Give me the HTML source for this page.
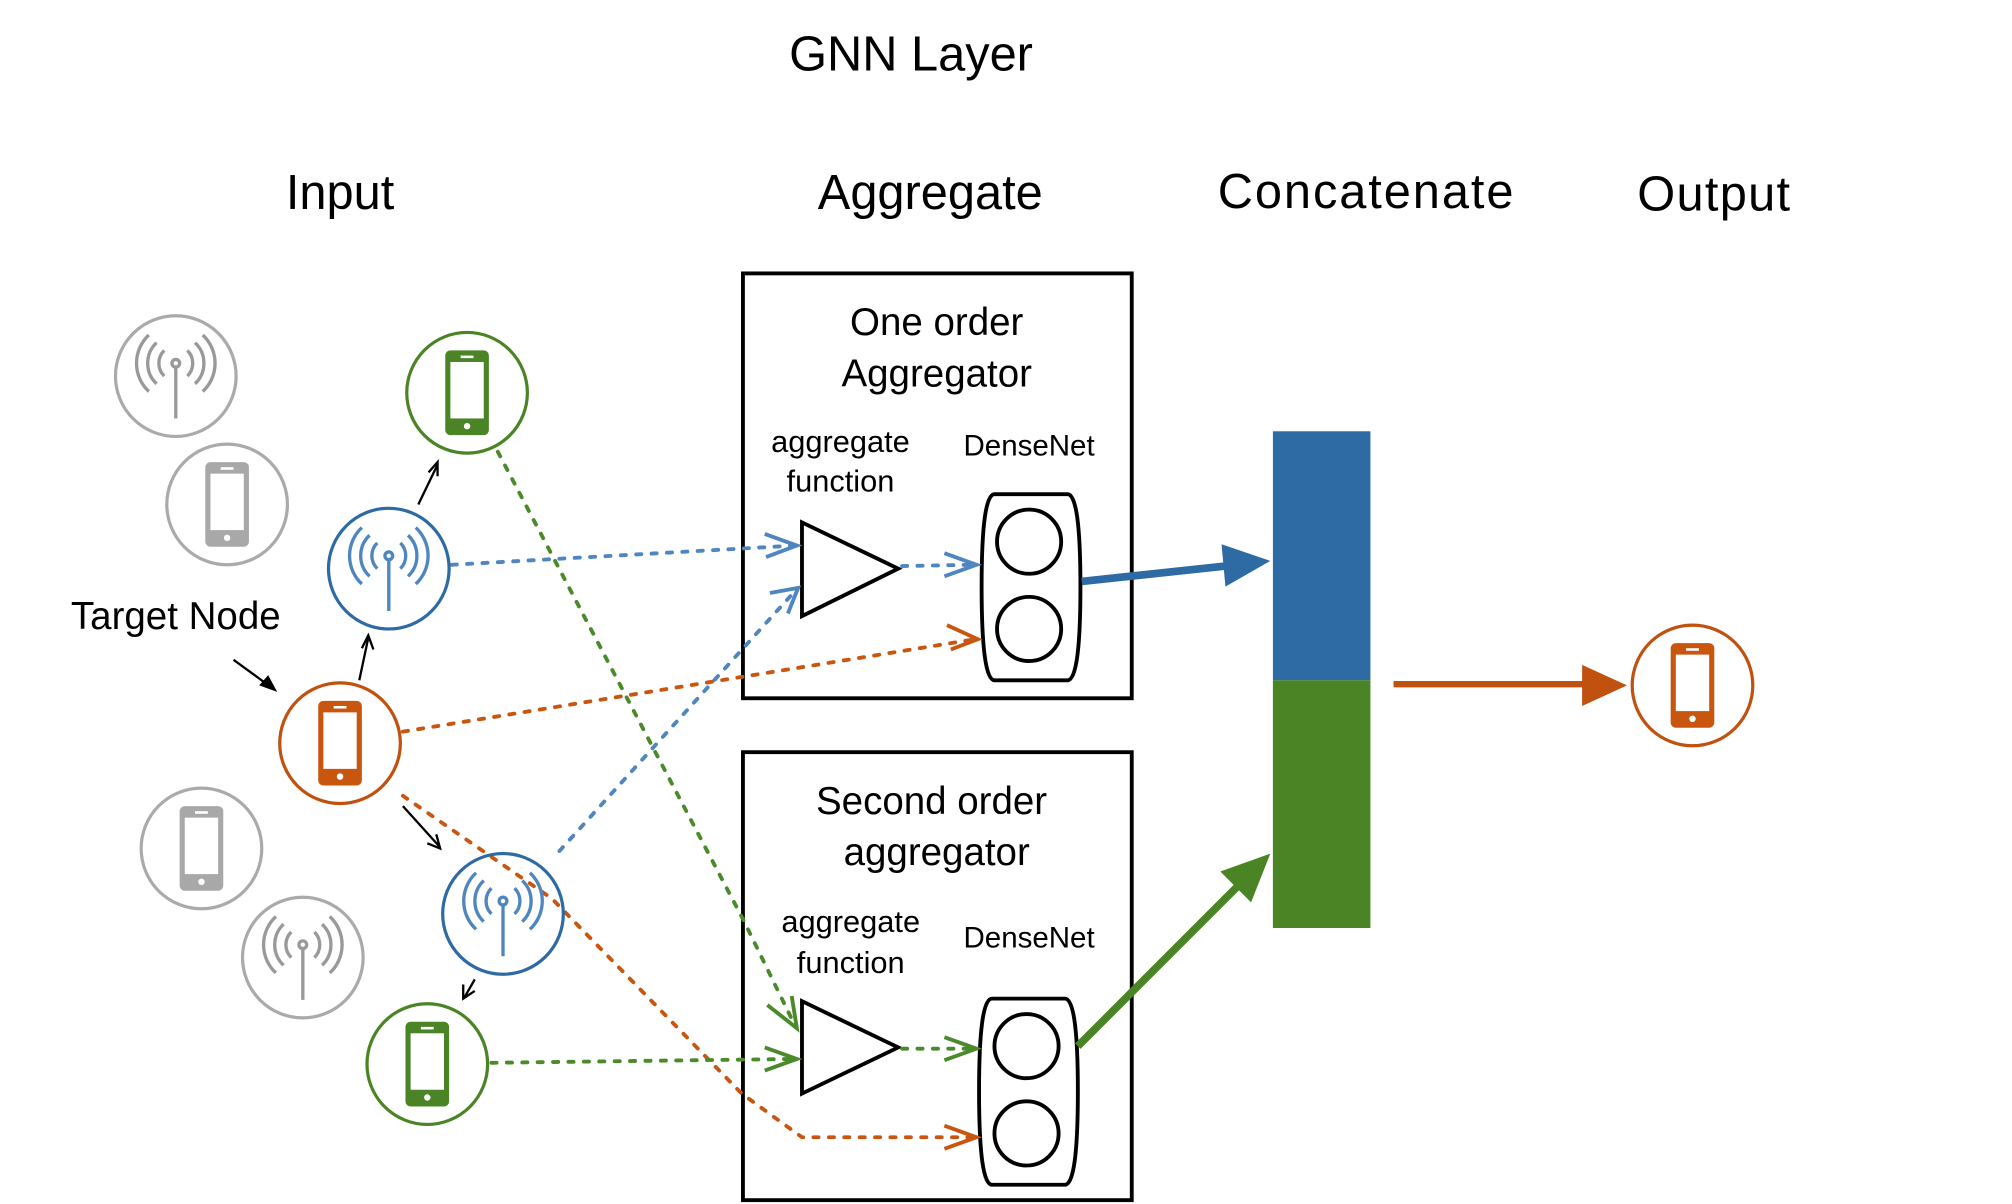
<!DOCTYPE html>
<html><head><meta charset="utf-8"><style>
html,body{margin:0;padding:0;background:#fff;}
svg{display:block;font-family:"Liberation Sans",sans-serif;}
</style></head><body>
<svg width="2012" height="1204" viewBox="0 0 1568 938" preserveAspectRatio="none" xmlns="http://www.w3.org/2000/svg">
<defs>
<g id="phone"><rect x="-17" y="-33" width="34" height="66" rx="4"/><rect x="-13" y="-24" width="26" height="44" fill="#fff"/><circle cx="0" cy="26" r="2.5" fill="#fff"/><rect x="-5" y="-29" width="10" height="2" fill="#fff"/></g>
<g id="ant" fill="none" stroke-width="2.6"><line x1="0" y1="-8" x2="0" y2="33"/><circle cx="0" cy="-10" r="3"/><path d="M-9,-20 A14,14 0 0 0 -9,0 M-15,-26 A22,22 0 0 0 -15,6 M-21,-32 A30,30 0 0 0 -21,12 M9,-20 A14,14 0 0 1 9,0 M15,-26 A22,22 0 0 1 15,6 M21,-32 A30,30 0 0 1 21,12"/></g>
</defs>
<g fill="#000" text-anchor="middle">
<text x="710" y="55" font-size="38">GNN Layer</text>
<text x="265" y="163" font-size="38">Input</text>
<text x="725" y="163" font-size="38">Aggregate</text>
<text x="1065" y="162" font-size="38" letter-spacing="1.5">Concatenate</text>
<text x="1336" y="164" font-size="38" letter-spacing="1">Output</text>
<text x="730" y="261" font-size="30">One order</text>
<text x="730" y="301" font-size="30">Aggregator</text>
<text x="655" y="352" font-size="24">aggregate</text>
<text x="655" y="383" font-size="24">function</text>
<text x="802" y="355" font-size="23">DenseNet</text>
<text x="726" y="634" font-size="30">Second order</text>
<text x="730" y="674" font-size="30">aggregator</text>
<text x="663" y="726" font-size="24">aggregate</text>
<text x="663" y="758" font-size="24">function</text>
<text x="802" y="738" font-size="23">DenseNet</text>
<text x="137" y="490" font-size="30">Target Node</text>
</g>
<g fill="none" stroke="#000" stroke-width="3">
<rect x="579" y="213" width="303" height="331"/>
<rect x="579" y="586" width="303" height="349"/>
<polygon points="625,407 625,480 700,443"/>
<polygon points="625,780 625,852 700,816"/>
<path d="M775,385 H832 Q842,385 842,457 Q842,530 832,530 H775 Q765,530 765,457 Q765,385 775,385Z"/>
<circle cx="802" cy="422" r="25"/><circle cx="802" cy="490" r="25"/>
<path d="M773,778 H830 Q840,778 840,850 Q840,923 830,923 H773 Q763,923 763,850 Q763,778 773,778Z"/>
<circle cx="800" cy="815" r="25"/><circle cx="800" cy="883" r="25"/>
</g>
<rect x="992" y="336" width="76" height="194" fill="#2e6aa3"/>
<rect x="992" y="530" width="76" height="193" fill="#4a8424"/>
<!-- dotted connectors -->
<g fill="none" stroke-width="3" stroke-dasharray="4 8" stroke-linecap="round">
<path d="M352,440 L620,425" stroke="#4f86c0"/>
<path d="M436,663 L620,460" stroke="#4f86c0"/>
<path d="M703,441 L758,440" stroke="#4f86c0"/>
<path d="M314,570 L760,498" stroke="#c8560f"/>
<path d="M314,620 L430,700 L578,852 L625,886 L758,886" stroke="#c8560f"/>
<path d="M388,352 L580,718 L620,800" stroke="#4a8a2a"/>
<path d="M383,828 L620,825" stroke="#4a8a2a"/>
<path d="M703,817 L758,817" stroke="#4a8a2a"/>
</g>
<g fill="none" stroke-width="3">
<polyline points="596,416 621,425 597,434" stroke="#4f86c0"/>
<polyline points="600,462 622,458 614,478" stroke="#4f86c0"/>
<polyline points="736,431 761,440 736,449" stroke="#4f86c0"/>
<polyline points="738,487 762,498 741,506" stroke="#c8560f"/>
<polyline points="736,877 761,886 736,895" stroke="#c8560f"/>
<polyline points="598,783 621,801 617,776" stroke="#4a8a2a"/>
<polyline points="596,816 621,825 596,834" stroke="#4a8a2a"/>
<polyline points="736,808 761,817 736,826" stroke="#4a8a2a"/>
</g>
<!-- big arrows -->
<line x1="843" y1="453" x2="955" y2="441" stroke="#2e6aa3" stroke-width="6"/>
<polygon points="990,437 952,424 955,457" fill="#2e6aa3"/>
<line x1="840" y1="815" x2="965" y2="690" stroke="#4a8424" stroke-width="6"/>
<polygon points="990,665 951,679 975,703" fill="#4a8424"/>
<line x1="1086" y1="533" x2="1235" y2="533" stroke="#c0510f" stroke-width="5"/>
<polygon points="1268,534 1233,518 1233,550" fill="#c0510f"/>
<!-- small black arrows -->
<g stroke="#000" stroke-width="1.8" fill="none">
<line x1="182" y1="514" x2="208" y2="533"/>
<line x1="280" y1="530" x2="287" y2="497"/><polyline points="282,505 287,495 291,506"/>
<line x1="326" y1="393" x2="341" y2="362"/><polyline points="334,368 341,360 341,371"/>
<line x1="314" y1="628" x2="342" y2="659"/><polyline points="333,657 343,661 340,650"/>
<line x1="370" y1="763" x2="362" y2="777"/><polyline points="361,767 361,778 370,772"/>
</g>
<polygon points="216,539 202,534 209,526" fill="#000"/>
<!-- nodes -->
<g fill="none" stroke-width="2.5">
<circle cx="137" cy="293" r="47" stroke="#aaa"/>
<circle cx="177" cy="393" r="47" stroke="#aaa"/>
<circle cx="364" cy="306" r="47" stroke="#4a8424"/>
<circle cx="303" cy="443" r="47" stroke="#2e6aa3"/>
<circle cx="265" cy="579" r="47" stroke="#c0510f"/>
<circle cx="157" cy="661" r="47" stroke="#aaa"/>
<circle cx="236" cy="746" r="47" stroke="#aaa"/>
<circle cx="392" cy="712" r="47" stroke="#2e6aa3"/>
<circle cx="333" cy="829" r="47" stroke="#4a8424"/>
<circle cx="1319" cy="534" r="47" stroke="#c0510f"/>
</g>
<use href="#ant" x="137" y="293" stroke="#999" fill="#999"/>
<use href="#phone" x="177" y="393" fill="#a8a8a8"/>
<use href="#phone" x="364" y="306" fill="#4a8424"/>
<use href="#ant" x="303" y="443" stroke="#4f86c0"/>
<use href="#phone" x="265" y="579" fill="#c8560f"/>
<use href="#phone" x="157" y="661" fill="#a8a8a8"/>
<use href="#ant" x="236" y="746" stroke="#999"/>
<use href="#ant" x="392" y="712" stroke="#4f86c0"/>
<use href="#phone" x="333" y="829" fill="#4a8424"/>
<use href="#phone" x="1319" y="534" fill="#c8560f"/>
</svg>
</body></html>
